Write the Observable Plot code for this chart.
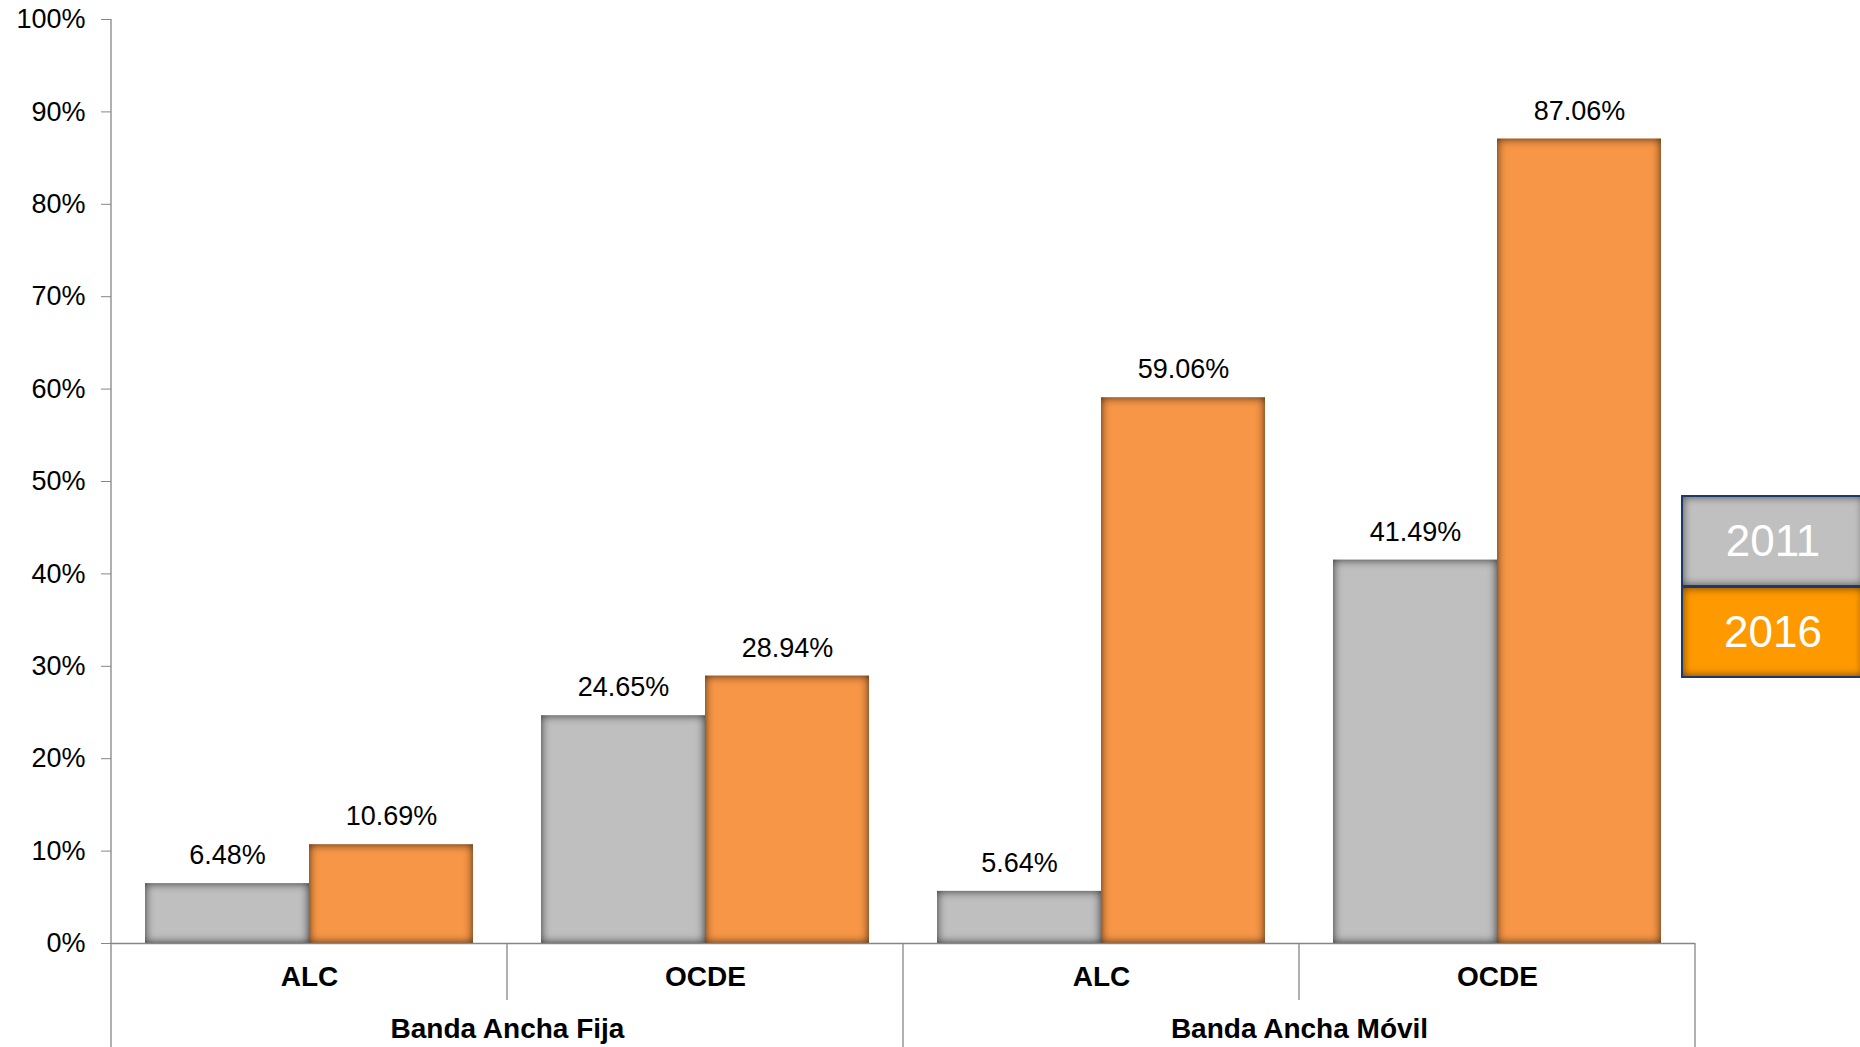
<!DOCTYPE html>
<html>
<head>
<meta charset="utf-8">
<script src="https://cdn.jsdelivr.net/npm/d3@7"></script>
<script src="https://cdn.jsdelivr.net/npm/@observablehq/plot@0.6"></script>
<style>
  html, body { margin: 0; padding: 0; background: #fff; overflow: hidden; }
  #wrap { position: relative; width: 1860px; height: 1047px; }
  .leg { position: absolute; box-sizing: border-box; left: 1681px; width: 184px; height: 92px;
         border: 2px solid #1b3a6b; color: #fff; font-family: "Liberation Sans", Arial, sans-serif;
         font-size: 44px; display: flex; align-items: center; justify-content: center;
         box-shadow: inset 0 0 9px rgba(0,0,0,0.6); }
</style>
</head>
<body>
<div id="wrap"></div>
<script>
// ---- data ----
const groups = ["Banda Ancha Fija", "Banda Ancha Fija", "Banda Ancha Móvil", "Banda Ancha Móvil"];
const regions = ["ALC", "OCDE", "ALC", "OCDE"];
const years = ["2011", "2016"];
const values2011 = [6.48, 24.65, 5.64, 41.49];
const values2016 = [10.69, 28.94, 59.06, 87.06];
const yTicks = [0, 10, 20, 30, 40, 50, 60, 70, 80, 90, 100];
const yearColors = ["#bfbfbf", "#f79646"];
const legendColors = ["#c0c0c0", "#ff9900"];

// ---- table ----
const cats = groups.map((g, i) => ({key: g + "|" + regions[i], group: g, region: regions[i], i}));
const rows = [];
cats.forEach((c, i) => {
  rows.push({key: c.key, year: years[0], value: values2011[i]});
  rows.push({key: c.key, year: years[1], value: values2016[i]});
});
// group label placed at the right edge of the first category of each group
const groupLabels = cats.filter((c, i) => i === 0 || groups[i - 1] !== c.group);

const font = '"Liberation Sans", Arial, sans-serif';

const plot = Plot.plot({
  width: 1860,
  height: 1047,
  marginLeft: 110,
  marginRight: 164,
  marginTop: 19,
  marginBottom: 104,
  style: {fontFamily: font, fontSize: "27px", color: "#000", background: "transparent"},
  fx: {domain: cats.map(c => c.key), padding: 0, axis: null},
  x: {domain: years, paddingInner: 0, paddingOuter: 0.207, axis: null},
  y: {domain: [0, 100], label: null},
  color: {domain: years, range: yearColors},
  marks: [
    Plot.barY(rows, {fx: "key", x: "year", y: "value", fill: "year"}),
    Plot.ruleY([0], {stroke: "#868686", strokeWidth: 1.3}),
    Plot.axisY({ticks: yTicks, tickFormat: d => d + "%", tickSize: 10, tickPadding: 16,
                stroke: "#868686", fill: "#000", fontSize: 27, label: null}),
    Plot.text(rows, {fx: "key", x: "year", y: "value", text: d => d.value.toFixed(2) + "%",
                     dy: -28, lineAnchor: "middle", fontSize: 27, fill: "#000"}),
    Plot.text(cats, {fx: "key", text: "region", frameAnchor: "bottom", dy: 34,
                     lineAnchor: "middle", fontWeight: "bold", fontSize: 28, fill: "#000"}),
    Plot.text(groupLabels, {fx: "key", text: "group", frameAnchor: "bottom-right", textAnchor: "middle",
                            dy: 86, lineAnchor: "middle", fontWeight: "bold", fontSize: 28, fill: "#000"})
  ]
});

document.getElementById("wrap").appendChild(plot);

// ---- inset shading for bars ----
const svg = d3.select(plot);
const defs = svg.insert("defs", ":first-child");
const f = defs.append("filter").attr("id", "inset")
  .attr("x", "-20%").attr("y", "-20%").attr("width", "140%").attr("height", "140%")
  .attr("color-interpolation-filters", "sRGB");
f.append("feFlood").attr("flood-color", "#000").attr("flood-opacity", 0.75).attr("result", "flood");
f.append("feComposite").attr("in", "flood").attr("in2", "SourceAlpha").attr("operator", "out").attr("result", "outside");
f.append("feGaussianBlur").attr("in", "outside").attr("stdDeviation", 5).attr("result", "blur");
f.append("feComposite").attr("in", "blur").attr("in2", "SourceAlpha").attr("operator", "in").attr("result", "shadow");
const m = f.append("feMerge");
m.append("feMergeNode").attr("in", "SourceGraphic");
m.append("feMergeNode").attr("in", "shadow");
svg.selectAll('g[aria-label="bar"] rect').attr("filter", "url(#inset)");

// ---- axis line and category separators, positioned from Plot's own scales ----
const fx = plot.scale("fx");
const y = plot.scale("y");
const y0 = y.apply(0), yTop = y.apply(100);
const bounds = cats.map(c => fx.apply(c.key));
bounds.push(fx.apply(cats[cats.length - 1].key) + fx.bandwidth);
const sep = svg.append("g").attr("stroke", "#868686").attr("stroke-width", 1.3);
bounds.forEach((bx, i) => {
  const isGroupEdge = i === 0 || i === cats.length || groups[i] !== groups[i - 1];
  sep.append("line").attr("x1", bx).attr("x2", bx)
    .attr("y1", i === 0 ? yTop : y0)
    .attr("y2", isGroupEdge ? 1047 : 1000);
});

// ---- legend ----
years.forEach((yr, i) => {
  const d = document.createElement("div");
  d.className = "leg";
  d.style.top = (495 + i * 91) + "px";
  d.style.background = legendColors[i];
  d.textContent = yr;
  document.getElementById("wrap").appendChild(d);
});
</script>
</body>
</html>
